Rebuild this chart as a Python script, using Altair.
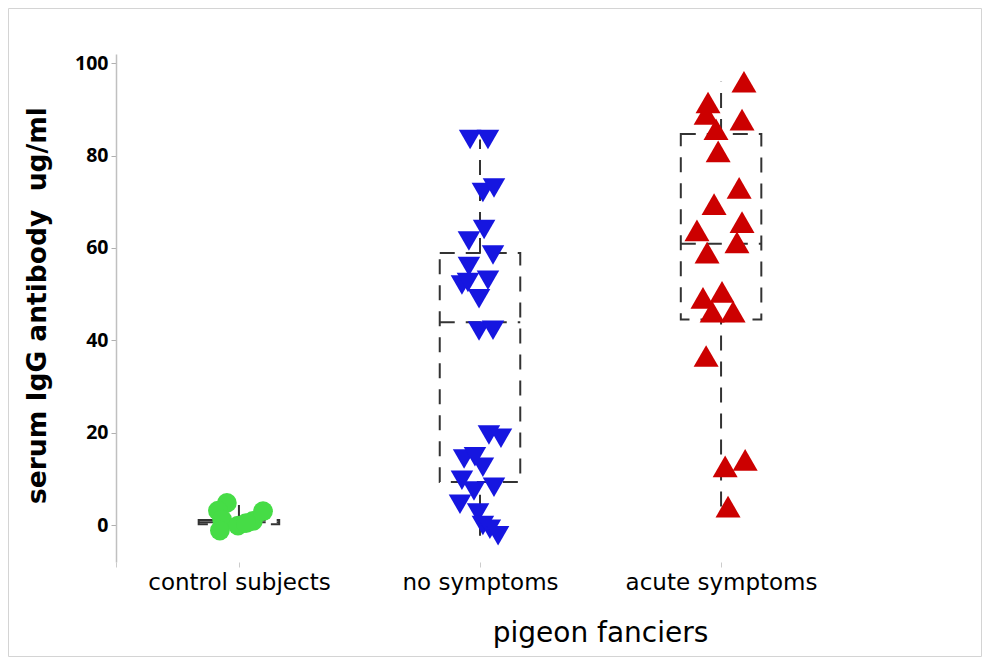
import json
import altair as alt
import pandas as pd

groups = ["control subjects", "no symptoms", "acute symptoms"]
colors = ["#46dc46", "#1616e0", "#cc0000"]
shapes = ["circle", "triangle-down", "triangle-up"]

control_vals = [4.8, 3.1, 1.2, -1.2, -0.1, 0.9, 3.0, 0.4]
control_jit = [-0.05, -0.087, -0.07, -0.079, -0.004, 0.058, 0.1, 0.029]

nosym_vals = [83.5, 83.5, 72, 73, 64, 61.5, 58.5, 56, 52, 52.5, 53, 49, 42, 42.2,
              19.5, 18.8, 14.3, 14.8, 12.5, 9.7, 7.4, 8.2, 4.5, 2.6, -0.1, -0.9, -2.3]
nosym_jit = [-0.041, 0.033, 0.012, 0.058, 0.017, -0.046, 0.054, -0.046, -0.075, -0.05,
             0.033, -0.004, -0.004, 0.054, 0.037, 0.087, -0.066, -0.021, 0.012, -0.075,
             -0.025, 0.058, -0.083, -0.008, 0.012, 0.041, 0.075]

acute_vals = [96, 91.5, 89, 87.8, 85.7, 80.9, 73, 69.5, 63.8, 65.6, 61.2, 59, 49.2,
              50.5, 46.2, 46.2, 36.6, 12.7, 14.1, 4]
acute_jit = [0.095, -0.054, -0.062, 0.087, -0.021, -0.012, 0.075, -0.029, -0.1, 0.087,
             0.066, -0.058, -0.075, 0.004, -0.037, 0.05, -0.062, 0.017, 0.1, 0.029]

# box statistics (control, no symptoms, acute)
box_q1 = [0.2, 9.3, 44.5]
box_median = [0.6, 43.9, 60.9]
box_q3 = [1.1, 58.9, 84.7]
whisker_lo = [-1.2, -2.3, 4.0]
whisker_hi = [4.8, 83.5, 96.0]

rows = []
for gi, (vals, jits) in enumerate([(control_vals, control_jit),
                                   (nosym_vals, nosym_jit),
                                   (acute_vals, acute_jit)]):
    for v, j in zip(vals, jits):
        rows.append({"group": groups[gi], "idx": gi, "value": v, "jitter": j})
pts = pd.DataFrame(rows)

box_df = pd.DataFrame({"idx": [0, 1, 2], "group": groups, "q1": box_q1,
                       "median": box_median, "q3": box_q3,
                       "lo": whisker_lo, "hi": whisker_hi})

W, H = 728, 508
PAD = {"left": 108, "top": 46, "right": 138, "bottom": 95}
XMIN, XMAX = -0.51, 2.51

xscale = alt.Scale(domain=[XMIN, XMAX], nice=False, zero=False)
yscale = alt.Scale(domain=[-8, 102], nice=False, zero=False)

label_expr = "datum.value < 0 ? '' : " + json.dumps(groups) + "[datum.value]"
xaxis = alt.Axis(values=[XMIN, 0, 1, 2], labelExpr=label_expr, domain=False, grid=False,
                 ticks=True, tickSize=5, tickColor="#cccccc", labelPadding=4,
                 labelLimit=400, labelOverlap=False,
                 labelFont="DejaVu Sans", labelFontSize=23, labelColor="#000000",
                 titleFont="DejaVu Sans", titleFontSize=28, titleFontWeight="normal",
                 titleColor="#000000", titleX=484, titleY=71, titleBaseline="middle",
                 titleAlign="center")
yaxis = alt.Axis(values=[0, 20, 40, 60, 80, 100], grid=False, domainColor="#c0c0c0",
                 domainWidth=1.5, tickColor="#b0b0b0", tickSize=5, labelPadding=3,
                 labelFont="Open Sans", labelFontSize=19.5, labelFontWeight="bold",
                 labelColor="#000000", titleFont="DejaVu Sans", titleFontSize=26.5,
                 titleFontWeight="bold", titleColor="#000000", titleAngle=-90,
                 titleX=-79, titleY=251, titleBaseline="middle", titleAlign="center")

XT = "pigeon fanciers"
YT = "serum IgG antibody\u00a0 ug/ml"
DASH = [15, 11]
LINE = "#333333"

boxbase = alt.Chart(box_df).transform_calculate(
    left="datum.idx - 0.167", right="datum.idx + 0.167"
)

boxes = boxbase.mark_rect(fillOpacity=0, stroke=LINE, strokeWidth=2, strokeDash=DASH).encode(
    x=alt.X("left:Q", scale=xscale, axis=xaxis, title=XT),
    x2="right:Q",
    y=alt.Y("q1:Q", scale=yscale, axis=yaxis, title=YT),
    y2="q3:Q",
)
medians = boxbase.mark_rule(stroke=LINE, strokeWidth=2, strokeDash=DASH).encode(
    x=alt.X("left:Q", scale=xscale, axis=xaxis, title=XT),
    x2="right:Q",
    y=alt.Y("median:Q", scale=yscale, axis=yaxis, title=YT),
)
upper = boxbase.mark_rule(stroke=LINE, strokeWidth=2, strokeDash=DASH).encode(
    x=alt.X("idx:Q", scale=xscale, axis=xaxis, title=XT),
    y=alt.Y("q3:Q", scale=yscale, axis=yaxis, title=YT),
    y2="hi:Q",
)
lower = boxbase.mark_rule(stroke=LINE, strokeWidth=2, strokeDash=DASH).encode(
    x=alt.X("idx:Q", scale=xscale, axis=xaxis, title=XT),
    y=alt.Y("lo:Q", scale=yscale, axis=yaxis, title=YT),
    y2="q1:Q",
)

points = alt.Chart(pts).transform_calculate(
    xpos="datum.idx + datum.jitter"
).mark_point(filled=True, opacity=1, strokeWidth=0).encode(
    x=alt.X("xpos:Q", scale=xscale, axis=xaxis, title=XT),
    y=alt.Y("value:Q", scale=yscale, axis=yaxis, title=YT),
    shape=alt.Shape("group:N", scale=alt.Scale(domain=groups, range=shapes), legend=None),
    color=alt.Color("group:N", scale=alt.Scale(domain=groups, range=colors), legend=None),
    size=alt.Size("group:N", scale=alt.Scale(domain=groups, range=[390, 625, 625]), legend=None),
)

frame = alt.Chart(pd.DataFrame({"a": [0]})).mark_rect(
    fillOpacity=0, stroke="#d4d4d4", strokeWidth=1
).encode(
    x=alt.value(-PAD["left"] + 0.5),
    x2=alt.value(W + PAD["right"] - 0.5),
    y=alt.value(-PAD["top"] + 0.5),
    y2=alt.value(H + PAD["bottom"] - 0.5),
)

chart = alt.layer(frame, boxes, medians, upper, lower, points).properties(
    width=W, height=H,
    autosize=alt.AutoSizeParams(type="none"),
    padding=PAD,
    background="#ffffff",
).configure_view(strokeOpacity=0)

chart.save("out.html", embed_options={"renderer": "svg", "actions": False})
